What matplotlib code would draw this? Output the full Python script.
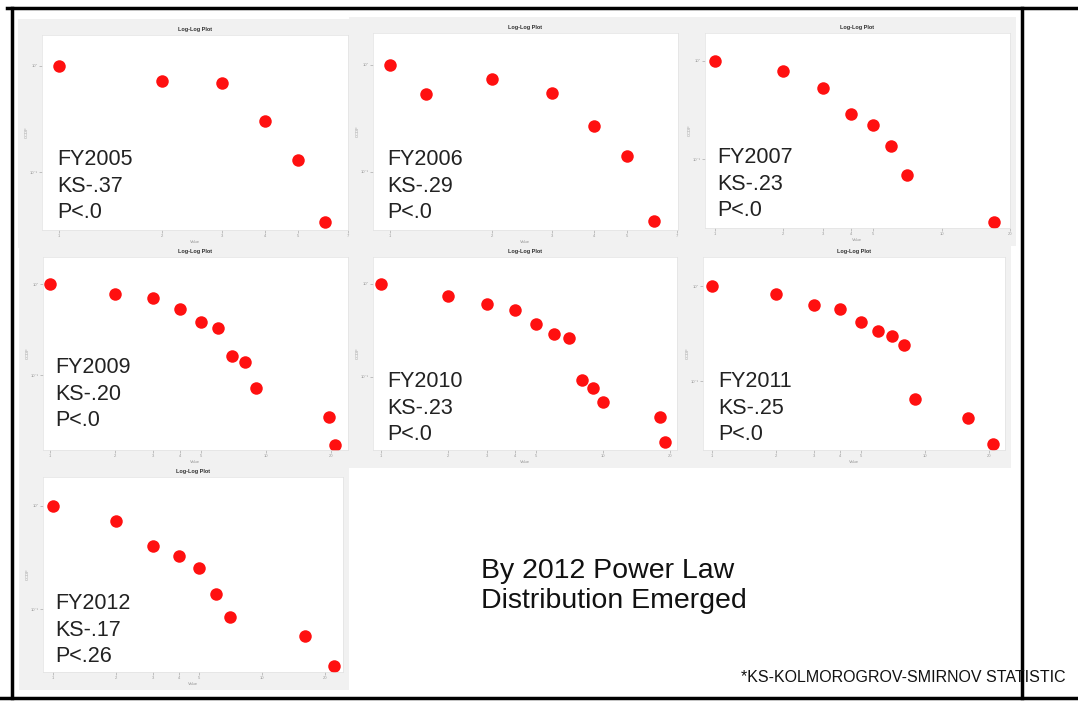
import matplotlib.pyplot as plt
from matplotlib.patches import Rectangle
from matplotlib.lines import Line2D

plt.rcParams['font.family'] = ['Liberation Sans', 'DejaVu Sans']

W, H = 1078, 701

# datos (rango vs frecuencia acumulada, escala log-log)
years = ["FY2005", "FY2006", "FY2007", "FY2009", "FY2010", "FY2011", "FY2012"]
ks_vals = ["KS-.37", "KS-.29", "KS-.23", "KS-.20", "KS-.23", "KS-.25", "KS-.17"]
p_vals = ["P<.0", "P<.0", "P<.0", "P<.0", "P<.0", "P<.0", "P<.26"]

x_2005 = [1, 2, 3, 4, 5, 6]
y_2005 = [1.0, 0.72, 0.69, 0.30, 0.13, 0.034]
x_2006 = [1, 1.28, 2, 3, 4, 5, 6]
y_2006 = [1.0, 0.53, 0.74, 0.55, 0.27, 0.14, 0.035]
x_2007 = [1, 2, 3, 4, 5, 6, 7, 17]
y_2007 = [1.0, 0.79, 0.53, 0.29, 0.22, 0.135, 0.069, 0.023]
x_2009 = [1, 2, 3, 4, 5, 6, 7, 8, 9, 19.5, 21]
y_2009 = [1.0, 0.78, 0.70, 0.53, 0.38, 0.33, 0.16, 0.14, 0.072, 0.035, 0.017]
x_2010 = [1, 2, 3, 4, 5, 6, 7, 8, 9, 10, 18, 19]
y_2010 = [1.0, 0.74, 0.61, 0.53, 0.37, 0.29, 0.26, 0.093, 0.076, 0.054, 0.037, 0.020]
x_2011 = [1, 2, 3, 4, 5, 6, 7, 8, 9, 16, 21]
y_2011 = [1.0, 0.82, 0.63, 0.57, 0.42, 0.34, 0.30, 0.24, 0.065, 0.041, 0.022]
x_2012 = [1, 2, 3, 4, 5, 6, 7, 16, 22]
y_2012 = [1.0, 0.71, 0.41, 0.33, 0.25, 0.14, 0.084, 0.055, 0.028]

xs = [x_2005, x_2006, x_2007, x_2009, x_2010, x_2011, x_2012]
ys = [y_2005, y_2006, y_2007, y_2009, y_2010, y_2011, y_2012]

ticks_small = [1, 2, 3, 4, 5, 7]
ticks_big = [1, 2, 3, 4, 5, 10, 20]
xticks = [ticks_small, ticks_small, ticks_big, ticks_big, ticks_big, ticks_big, ticks_big]

# posicion de cada eje en pixeles (izq, arriba, der, abajo)
boxes = [(42, 35, 348, 230), (373, 33, 678, 230), (705, 33, 1010, 228),
         (43, 257, 348, 450), (373, 257, 677, 450), (703, 257, 1005, 450),
         (43, 477, 343, 672)]
xlims = [(0.892, 7.0), (0.892, 7.05), (0.904, 20), (0.928, 24),
         (0.92, 21.5), (0.908, 23.8), (0.896, 24.4)]
ylims = [(0.0284, 1.96), (0.0287, 1.99), (0.0198, 1.93), (0.015, 1.98),
         (0.0164, 1.95), (0.0188, 2.02), (0.0245, 1.91)]
# posicion del texto (x, centro de la linea del medio)
labels_pos = [(57, 186), (387, 186), (717, 184), (55, 394), (387, 408),
              (718, 408), (55, 630)]

fig = plt.figure(figsize=(W / 100, H / 100), dpi=100)
fig.patch.set_facecolor('white')

for i in range(len(years)):
    L, T, R, B = boxes[i]
    # fondo gris del panel
    fig.add_artist(Rectangle(((L - 24) / W, 1 - (B + 18) / H), (R - L + 30) / W,
                             (B - T + 34) / H, transform=fig.transFigure,
                             facecolor='#f1f1f1', edgecolor='none', zorder=0))
    ax = fig.add_axes([L / W, 1 - B / H, (R - L) / W, (B - T) / H])
    ax.set_facecolor('white')
    ax.plot(xs[i], ys[i], 'o', color='#ff1010', markersize=9, markeredgewidth=0)
    ax.set_xscale('log')
    ax.set_yscale('log')
    ax.set_xlim(*xlims[i])
    ax.set_ylim(*ylims[i])
    ax.set_xticks(xticks[i])
    ax.set_xticklabels([str(t) for t in xticks[i]])
    ax.set_yticks([0.1, 1])
    ax.set_yticklabels(['10⁻¹', '10⁰'])
    ax.minorticks_off()
    ax.tick_params(labelsize=3, colors='#999999', length=2, width=0.4, pad=1)
    for s in ax.spines.values():
        s.set_color('#e2e2e2')
        s.set_linewidth(0.5)
    ax.set_title("Log-Log Plot", fontsize=4, fontweight='bold', pad=3, color='#333333')
    ax.set_xlabel("Value", fontsize=3, color='#999999', labelpad=1)
    ax.set_ylabel("CCDF", fontsize=3, color='#999999', labelpad=1)

    tx, ty = labels_pos[i]
    fig.text(tx / W, 1 - ty / H, f"{years[i]}\n{ks_vals[i]}\n{p_vals[i]}",
             fontsize=15.5, color='#222222', ha='left', va='center', linespacing=1.37)

# texto principal
fig.text(481 / W, 1 - 586 / H, "By 2012 Power Law\nDistribution Emerged",
         fontsize=20.5, color='#111111', ha='left', va='center', linespacing=1.16)
fig.text(741 / W, 1 - 677 / H, "*KS-KOLMOROGROV-SMIRNOV STATISTIC",
         fontsize=11.5, color='#111111', ha='left', va='center')

# marco negro de la diapositiva
lw = 2.5
fig.add_artist(Line2D([7 / W, 1], [1 - 8 / H, 1 - 8 / H], color='black', lw=lw))
fig.add_artist(Line2D([0, 1], [1 - 698 / H, 1 - 698 / H], color='black', lw=lw))
fig.add_artist(Line2D([12 / W, 12 / W], [1 - 8 / H, 1 - 698 / H], color='black', lw=lw))
fig.add_artist(Line2D([1022 / W, 1022 / W], [1 - 8 / H, 1 - 698 / H], color='black', lw=lw))

fig.savefig("out.png", dpi=100)
